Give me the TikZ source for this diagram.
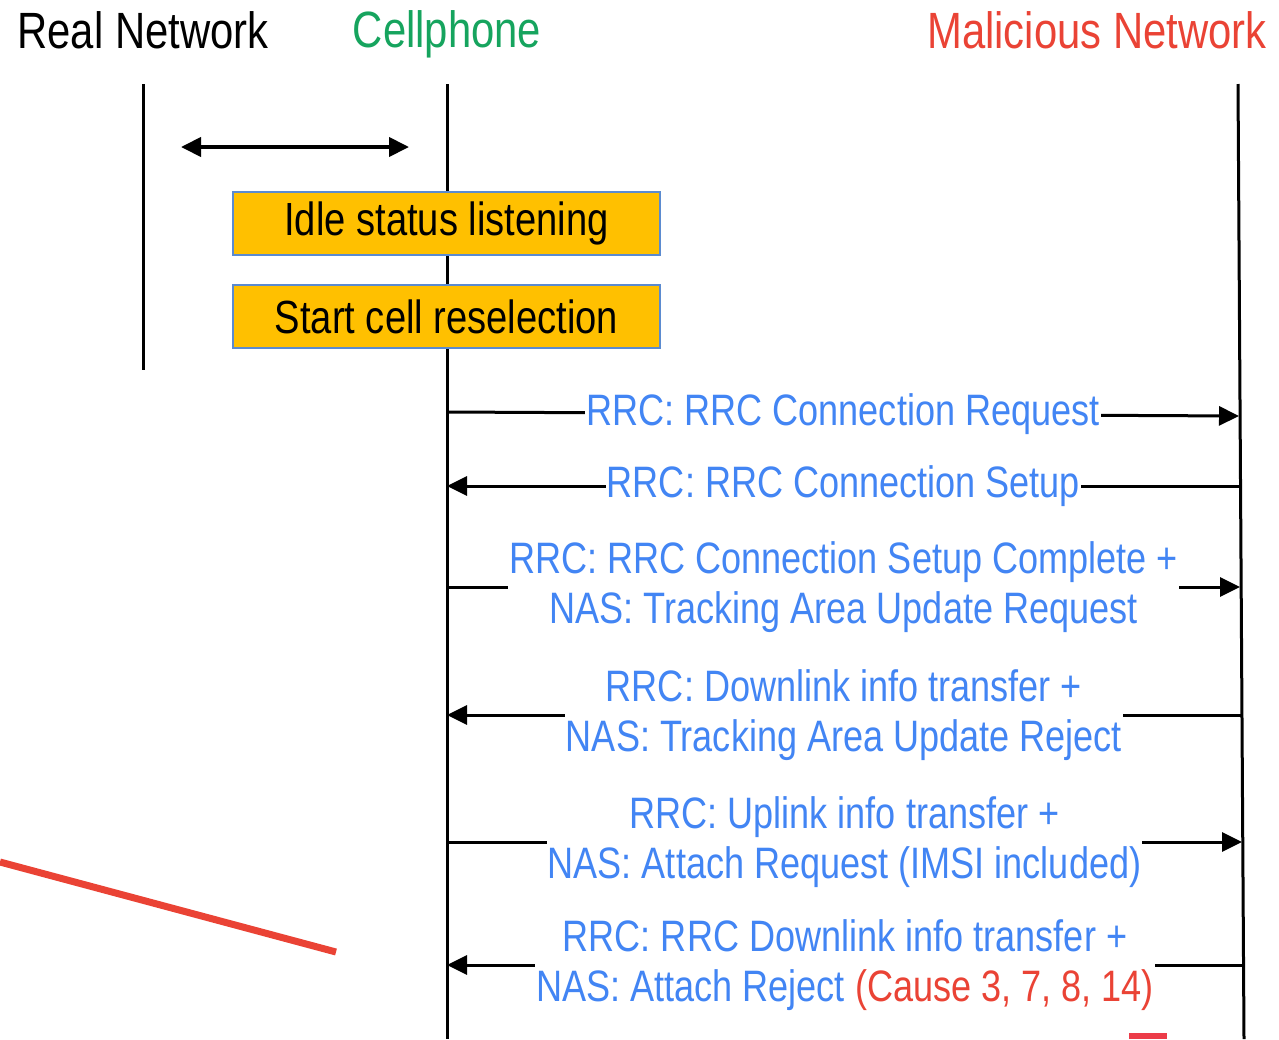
\documentclass[tikz,border=0pt]{standalone}
\usepackage{fontspec}
\setmainfont[FakeStretch=0.82]{Liberation Sans}
\usepackage{tikz}
\usetikzlibrary{arrows.meta}

\definecolor{msgblue}{HTML}{4285F4}
\definecolor{phonegreen}{HTML}{16A45E}
\definecolor{evilred}{HTML}{EA4335}
\definecolor{boxyellow}{HTML}{FFC000}
\definecolor{boxblue}{HTML}{5B8BD0}

\begin{document}
\begin{tikzpicture}[x=1pt,y=-1pt,>={Triangle[length=20pt,width=19pt]},
	life/.style={line width=3pt},
	msg/.style={line width=3pt},
	msgtext/.style={fill=white,text=msgblue,font=\fontsize{44}{50}\selectfont,align=center,inner sep=1pt},
	head/.style={font=\fontsize{51}{55}\selectfont},
	statebox/.style={draw=boxblue,line width=2pt,fill=boxyellow,minimum width=427pt,minimum height=63pt,font=\fontsize{46.5}{50}\selectfont}]

	\useasboundingbox (0,0) rectangle (1279,1039);

	\node[head] (real) at (143,30) {Real Network};
	\node[head,text=phonegreen] (phone) at (447,34) {Cellphone};
	\node[head,text=evilred,anchor=east] (evil) at (1270,30) {Malicious Network};

	\coordinate (r0) at (143,84);
	\coordinate (r1) at (143,370);
	\coordinate (p0) at (447,84);
	\coordinate (p1) at (447,1039);
	\coordinate (e0) at (1238,84);
	\coordinate (e1) at (1244,1039);

	\draw[life] (r0) -- (r1);
	\draw[life] (p0) -- (p1);
	\draw[life] (e0) -- (e1);

	\coordinate (s0) at (181,147);
	\coordinate (s1) at (409,147);
	\path[msg,line width=4pt,<->] (s0) edge (s1);

	\node[statebox] (idle) at (446.5,223) {Idle status listening};
	\node[statebox] (resel) at (446.5,316.5) {Start cell reselection};

	\coordinate (p2) at (447,412);
	\coordinate (e2) at (1239,416);
	\coordinate (p3) at (447,486);
	\coordinate (e3) at (1240,486);
	\coordinate (p4) at (447,587);
	\coordinate (e4) at (1240,587);
	\coordinate (p5) at (447,715);
	\coordinate (e5) at (1241,715);
	\coordinate (p6) at (447,842);
	\coordinate (e6) at (1242,842);
	\coordinate (p7) at (447,965);
	\coordinate (e7) at (1243,965);

	\path[msg,->] (p2) edge node[msgtext] {RRC: RRC Connection Request} (e2);
	\path[msg,->] (e3) edge node[msgtext] {RRC: RRC Connection Setup} (p3);
	\path[msg,->] (p4) edge node[msgtext] {RRC: RRC Connection Setup Complete +\\NAS: Tracking Area Update Request} (e4);
	\path[msg,->] (e5) edge node[msgtext] {RRC: Downlink info transfer +\\NAS: Tracking Area Update Reject} (p5);
	\path[msg,->] (p6) edge node[msgtext] {RRC: Uplink info transfer +\\NAS: Attach Request (IMSI included)} (e6);
	\path[msg,->] (e7) edge node[msgtext] {RRC: RRC Downlink info transfer +\\NAS: Attach Reject \textcolor{evilred}{(Cause 3, 7, 8, 14)}} (p7);

	\coordinate (x0) at (0,862);
	\coordinate (x1) at (336,952);
	\draw[line width=7pt,color=evilred] (x0) -- (x1);
	\coordinate (d0) at (1129,1033);
	\coordinate (d1) at (1167,1039);
	\fill[color=evilred!90!magenta] (d0) rectangle (d1);
\end{tikzpicture}
\end{document}
